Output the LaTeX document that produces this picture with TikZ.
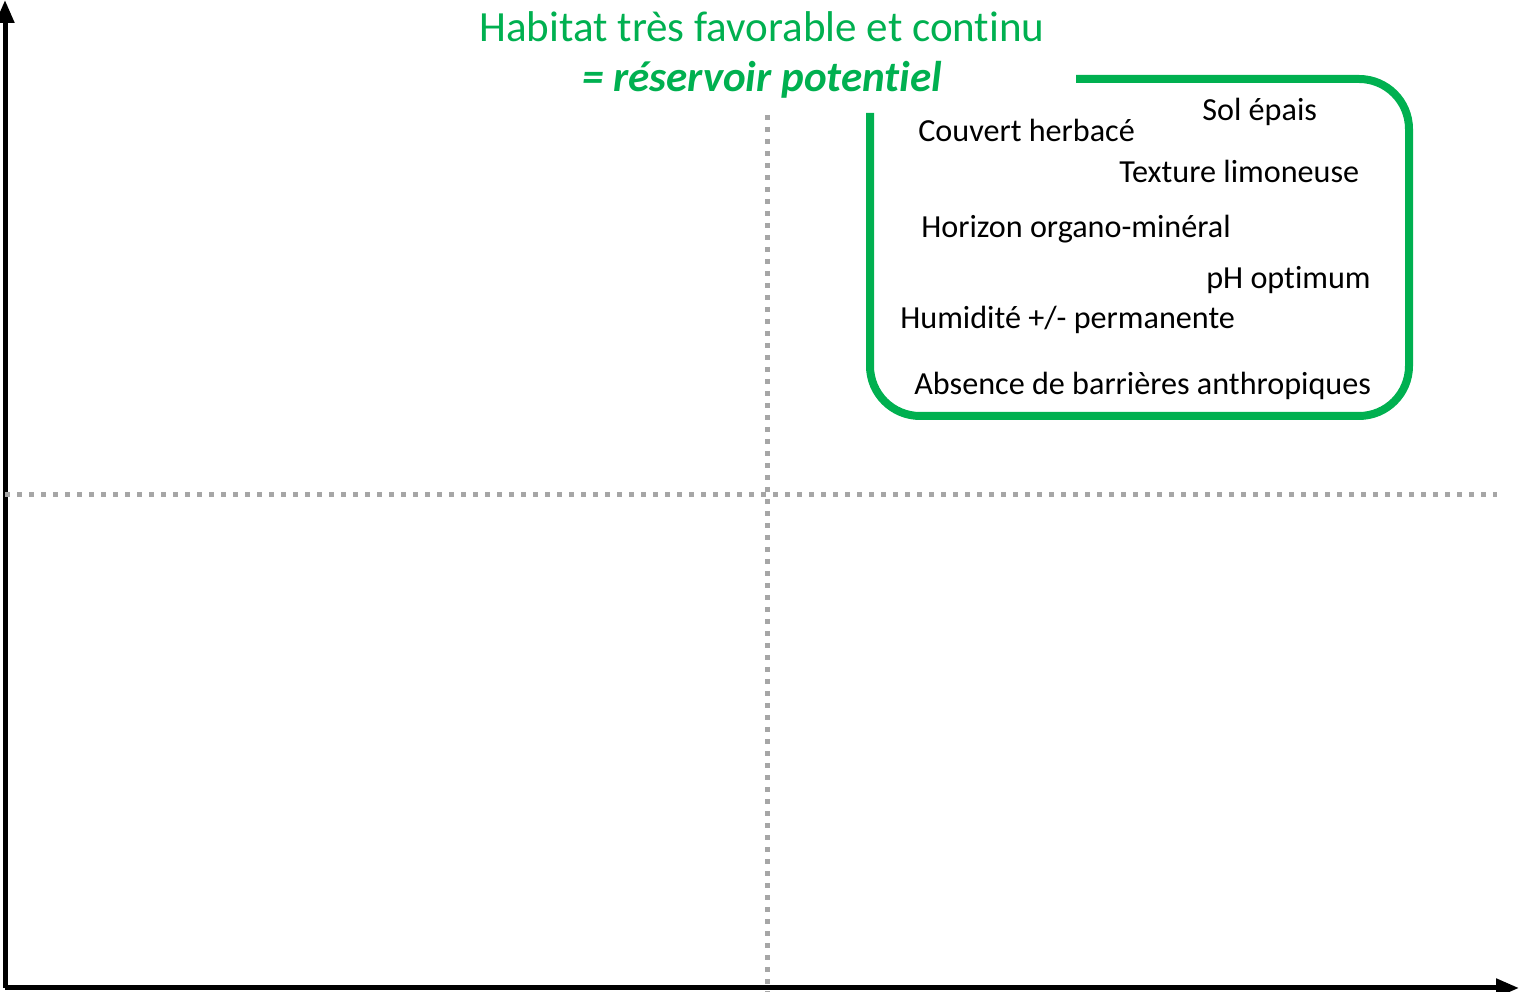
\documentclass[tikz,border=0pt]{standalone}
\usepackage{fontspec}
\setmainfont[RawFeature={-liga;-calt;-clig;-dlig}]{Carlito}
\usepackage{tikz}
\usepackage{xcolor}
\usetikzlibrary{arrows.meta, positioning}
\definecolor{cGreen}{RGB}{0,176,80}
\definecolor{cGrid}{RGB}{166,166,166}
\tikzset{
	axis/.style     ={line width=0.1cm, -{Triangle[length=0.46cm, width=0.36cm]}},
	grid/.style     ={line width=0.1cm, cGrid, dash pattern=on 0.1cm off 0.14cm},
	zone/.style     ={line width=0.16cm, cGreen, rounded corners=1cm},
	crit/.style     ={anchor=base west, inner sep=0pt, font=\fontsize{18.3}{22}\selectfont},
	headline/.style ={anchor=base, inner sep=0pt, text=cGreen, font=\fontsize{24.5}{29}\selectfont},
}
\begin{document}
\begin{tikzpicture}
	\useasboundingbox (0,0) rectangle (30.38,19.84);
	% axes
	\coordinate (O) at (0.1,0.08);
	\coordinate (ytop) at (0.1,19.84);
	\coordinate (xend) at (30.38,0.08);
	\draw[axis] (O) -- (ytop);
	\draw[axis] (O) -- (xend);
	% quadrants
	\coordinate (vtop) at (15.34,17.54);
	\coordinate (vbot) at (15.34,0);
	\coordinate (hleft) at (0.1,9.94);
	\coordinate (hright) at (29.94,9.94);
	\draw[grid] (vtop) -- (vbot);
	\draw[grid] (hleft) -- (hright);
	% title
	\node[headline] (title) at (15.24,19.0) {Habitat très favorable et continu};
	\node[headline, font=\fontsize{24.5}{29}\selectfont\bfseries\itshape] (reservoir) at (15.24,18.0) {= réservoir potentiel};
	% green zone
	\coordinate (zstart) at (21.52,18.26);
	\coordinate (zse) at (28.18,11.52);
	\coordinate (zend) at (17.4,17.58);
	\draw[zone] (zstart) -| (zse) -| (zend);
	% criteria
	\node[crit] (sol) at (24.04,17.42) {Sol épais};
	\node[crit] (couvert) at (18.36,17.0) {Couvert herbacé};
	\node[crit] (texture) at (22.38,16.18) {Texture limoneuse};
	\node[crit] (horizon) at (18.42,15.08) {Horizon organo-minéral};
	\node[crit] (ph) at (24.12,14.06) {pH optimum};
	\node[crit] (humid) at (18.0,13.26) {Humidité +/- permanente};
	\node[crit] (absence) at (18.28,11.94) {Absence de barrières anthropiques};
\end{tikzpicture}
\end{document}
